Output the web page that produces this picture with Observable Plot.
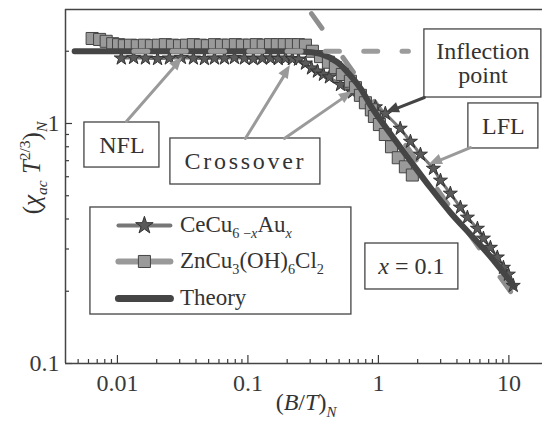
<!DOCTYPE html>
<html><head><meta charset="utf-8">
<script src="https://cdn.jsdelivr.net/npm/d3@7"></script>
<script src="https://cdn.jsdelivr.net/npm/@observablehq/plot@0.6"></script>
<style>
html,body{margin:0;padding:0;background:#fff;}
#chart{width:542px;height:422px;}
svg text{font-family:"Liberation Serif","Times New Roman",serif;}
</style>
</head><body><div id="chart"></div>
<script>
// ---- data ----
const znX = [0.0064,0.0073,0.0082,0.0092,0.0102,0.0113,0.0126,0.0142,0.0161,0.0182,0.0206,0.0233,0.0264,0.0299,0.0338,0.0382,0.0433,0.0489,0.0554,0.0627,0.0709,0.0802,0.0907,0.103,0.116,0.131,0.149,0.168,0.190,0.215,0.244,0.276,0.312,0.360,0.414,0.468,0.529,0.610,0.667,0.728,0.795,0.883,0.932,1.018,1.13,1.26,1.42,1.61,1.82];
const znY = [2.26,2.24,2.20,2.15,2.13,2.11,2.12,2.11,2.12,2.11,2.12,2.13,2.12,2.11,2.12,2.13,2.12,2.11,2.13,2.12,2.12,2.13,2.12,2.12,2.13,2.12,2.13,2.13,2.13,2.13,2.13,2.12,2.00,1.90,1.80,1.71,1.60,1.50,1.41,1.31,1.22,1.14,1.07,0.99,0.90,0.80,0.72,0.66,0.61];
const ceX = [0.0107,0.0133,0.0164,0.0203,0.0250,0.0309,0.0382,0.0464,0.0554,0.0661,0.0788,0.0940,0.110,0.129,0.149,0.171,0.194,0.219,0.244,0.276,0.307,0.341,0.379,0.421,0.512,0.632,0.781,0.949,1.13,1.47,1.76,2.10,2.64,2.99,3.56,4.25,4.81,5.74,6.38,7.22,8.16,9.08,9.91,10.8];
const ceY = [1.87,1.88,1.87,1.86,1.87,1.88,1.87,1.86,1.87,1.87,1.88,1.87,1.86,1.87,1.87,1.86,1.87,1.86,1.85,1.78,1.70,1.65,1.60,1.56,1.45,1.35,1.25,1.17,1.10,0.953,0.841,0.743,0.649,0.579,0.511,0.447,0.406,0.365,0.332,0.304,0.277,0.251,0.235,0.211];
const thX = [0.0047,0.01,0.03,0.1,0.2,0.27,0.36,0.485,0.61,0.73,0.87,0.98,1.35,1.82,2.50,3.56,5.25,7.22,11.0];
const thY = [2.0,2.0,2.0,2.0,2.0,1.99,1.95,1.80,1.585,1.40,1.19,1.08,0.849,0.681,0.541,0.426,0.338,0.279,0.209];
const tanX = [0.307, 11.2];          // dashed tangent line through inflection point
const tanY = [2.87, 0.187];
const nflX = [0.01338, 1.698];       // dashed NFL plateau line
const nflY = [2.0, 2.0];

const seriesNames = ["CeCu6−xAux", "ZnCu3(OH)6Cl2", "Theory"];
const xMajor = [0.01, 0.1, 1, 10];
const xLabels = ["0.01", "0.1", "1", "10"];
const xMinor = [0.005,0.006,0.007,0.008,0.009,0.02,0.03,0.04,0.05,0.06,0.07,0.08,0.09,0.2,0.3,0.4,0.5,0.6,0.7,0.8,0.9,2,3,4,5,6,7,8,9];
const yMajor = [0.1, 1];
const yLabels = ["0.1", "1"];
const yMinor = [0.2,0.3,0.4,0.5,0.6,0.7,0.8,0.9,2];

// annotation boxes (data coordinates)
const boxText = ["NFL", "Crossover", "Inflection\npoint", "LFL", "x = 0.1"];
const boxX1 = [0.005587, 0.02547, 2.252, 4.894, 0.7950];
const boxX2 = [0.02099, 0.3594, 17.74, 16.83, 4.102];
const boxY1 = [0.6554, 0.5569, 1.283, 0.7868, 0.2034];
const boxY2 = [1.0096, 0.8660, 2.465, 1.212, 0.3162];
// arrows (data coordinates)
const arX1 = [0.01172, 0.09567, 0.1904, 5.07, 2.252];
const arY1 = [1.0194, 0.8660, 0.8660, 0.794, 1.283];
const arX2 = [0.03148, 0.2117, 0.6322, 2.459, 1.152];
const arY2 = [1.884, 1.745, 1.359, 0.675, 1.111];
const arDark = [false, false, false, false, true];
// legend box
const legX1 = 0.006211, legX2 = 0.6211, legY1 = 0.1600, legY2 = 0.4467;
const legRowY = [0.3758, 0.2661, 0.1866];
const legLineX1 = 0.01018, legLineX2 = 0.02547, legMarkX = 0.0161, legTextX = 0.0304;

const xDomain = [0.004, 18.1];
const yDomain = [0.1, 2.985];

const zn = znX.map((x, i) => ({x, y: znY[i]}));
const ce = ceX.map((x, i) => ({x, y: ceY[i]}));
const th = thX.map((x, i) => ({x, y: thY[i]}));
const tan = tanX.map((x, i) => ({x, y: tanY[i]}));
const nfl = nflX.map((x, i) => ({x, y: nflY[i]}));
const boxes = boxText.map((t, i) => ({t, x1: boxX1[i], x2: boxX2[i], y1: boxY1[i], y2: boxY2[i]}));
const arrows = arX1.map((x1, i) => ({x1, y1: arY1[i], x2: arX2[i], y2: arY2[i], dark: arDark[i]}));
const legRows = legRowY.map((y, i) => ({y, i}));
const arrowColor = d => d.dark ? "#444" : "#9a9a9a";

const plot = Plot.plot({
  width: 542, height: 422,
  marginLeft: 65, marginRight: 0, marginTop: 9, marginBottom: 59,
  style: {fontFamily: '"Liberation Serif", serif', fontSize: "24px", color: "#3a3a3a", background: "#fff"},
  x: {type: "log", domain: xDomain},
  y: {type: "log", domain: yDomain},
  marks: [
    Plot.axisX({ticks: xMinor, tickSize: -4, tickFormat: () => "", strokeWidth: 1.2}),
    Plot.axisX({ticks: xMajor, tickSize: -8, tickPadding: 18, tickFormat: d => xLabels[xMajor.indexOf(d)], strokeWidth: 1.2, fontSize: 24}),
    Plot.axisY({ticks: yMinor, tickSize: -4, tickFormat: () => "", strokeWidth: 1.2}),
    Plot.axisY({ticks: yMajor, tickSize: -7, tickPadding: 13, tickFormat: d => yLabels[yMajor.indexOf(d)], strokeWidth: 1.2, fontSize: 24}),
    Plot.ruleX([xDomain[0]], {stroke: "#444", strokeWidth: 1.5}),
    Plot.ruleY([yDomain[0], yDomain[1]], {stroke: "#444", strokeWidth: 1.5}),
    // tangent dashed line
    Plot.line(tan, {x: "x", y: "y", stroke: "#8e8e8e", strokeWidth: 5, strokeLinecap: "round", strokeDasharray: "18,36"}),
    // CeCu stars
    Plot.line(ce, {x: "x", y: "y", stroke: "#777", strokeWidth: 3}),
    Plot.dot(ce, {x: "x", y: "y", symbol: "star", r: 4.4, fill: "#5a5a5a", stroke: "#333", strokeWidth: 1}),
    // ZnCu squares
    Plot.line(zn, {x: "x", y: "y", stroke: "#999", strokeWidth: 5}),
    Plot.dot(zn, {x: "x", y: "y", symbol: "square", r: 6.8, fill: "#9a9a9a", stroke: "#454545", strokeWidth: 1}),
    // theory
    Plot.line(th, {x: "x", y: "y", stroke: "#454545", strokeWidth: 6, strokeLinecap: "round", curve: "catmull-rom"}),
    // NFL plateau dashed line
    Plot.line(nfl, {x: "x", y: "y", stroke: "#9c9c9c", strokeWidth: 5, strokeLinecap: "round", strokeDasharray: "14,24.3"}),
    // annotation boxes & arrow shafts
    Plot.rect(boxes, {x1: "x1", x2: "x2", y1: "y1", y2: "y2", fill: "#fff", stroke: "#444", strokeWidth: 1.3}),
    Plot.rect([{}], {x1: () => legX1, x2: () => legX2, y1: () => legY1, y2: () => legY2, fill: "#fff", stroke: "#444", strokeWidth: 1.3}),
    Plot.arrow(arrows, {x1: "x1", y1: "y1", x2: "x2", y2: "y2", stroke: arrowColor, strokeWidth: 3, headLength: 0, insetEnd: 9}),
    Plot.text(boxes.filter(d => d.t !== "x = 0.1"), {x: d => Math.sqrt(d.x1 * d.x2), y: d => Math.sqrt(d.y1 * d.y2), text: "t", fontSize: 24, fill: "#333", lineHeight: 1.0}),
    // legend samples
    Plot.link(legRows, {x1: () => legLineX1, x2: () => legLineX2, y1: "y", y2: "y",
      stroke: d => ["#777", "#999", "#454545"][d.i], strokeWidth: d => [4, 6, 7][d.i], strokeLinecap: "round"}),
    Plot.dot(legRows.filter(d => d.i === 0), {x: () => legMarkX, y: "y", symbol: "star", r: 5.5, fill: "#5a5a5a", stroke: "#333", strokeWidth: 1}),
    Plot.dot(legRows.filter(d => d.i === 1), {x: () => legMarkX, y: "y", symbol: "square", r: 6.8, fill: "#9a9a9a", stroke: "#454545", strokeWidth: 1})
  ]
});

document.getElementById("chart").appendChild(plot);

const sx = plot.scale("x"), sy = plot.scale("y");
const svg = d3.select(plot);
const g = svg.append("g").attr("fill", "#333");

// filled arrowheads
for (const a of arrows) {
  const x1 = sx.apply(a.x1), y1 = sy.apply(a.y1), x2 = sx.apply(a.x2), y2 = sy.apply(a.y2);
  const ang = Math.atan2(y2 - y1, x2 - x1), L = 13, W = 5.5;
  const bx = x2 - L * Math.cos(ang), by = y2 - L * Math.sin(ang);
  g.append("polygon")
    .attr("points", [[x2, y2], [bx + W * Math.sin(ang), by - W * Math.cos(ang)], [bx - W * Math.sin(ang), by + W * Math.cos(ang)]].map(p => p.join(",")).join(" "))
    .attr("fill", arrowColor(a));
}

// wider letter spacing for "Crossover" as in the reference
svg.selectAll("text").filter(function () { return this.textContent === "Crossover"; }).attr("letter-spacing", "2.7px");

function rich(x, y, parts, {size = 24, anchor = "start", rotate = 0} = {}) {
  const t = g.append("text").attr("x", x).attr("y", y).attr("font-size", size).attr("text-anchor", anchor);
  if (rotate) t.attr("transform", `rotate(${rotate},${x},${y})`);
  let cur = 0;
  for (const p of parts) {
    const s = (p.sub || p.sup) ? 0.62 * size : size;
    const off = p.sub ? 0.28 * size : p.sup ? -0.42 * size : 0;
    const ts = t.append("tspan").attr("font-size", s).attr("dy", off - cur).text(p.t);
    if (p.i) ts.attr("font-style", "italic");
    cur = off;
  }
  return t;
}

// legend labels
const legParts = [
  [{t: "CeCu"}, {t: "6 −", sub: 1}, {t: "x", sub: 1, i: 1}, {t: "Au"}, {t: "x", sub: 1, i: 1}],
  [{t: "ZnCu"}, {t: "3", sub: 1}, {t: "(OH)"}, {t: "6", sub: 1}, {t: "Cl"}, {t: "2", sub: 1}],
  [{t: seriesNames[2]}]
];
legRowY.forEach((y, i) => rich(sx.apply(legTextX), sy.apply(y) + 7, legParts[i], {size: 23}));

// x = 0.1 box text
const b = boxes[4];
rich(sx.apply(Math.sqrt(b.x1 * b.x2)), sy.apply(Math.sqrt(b.y1 * b.y2)) + 8,
  [{t: "x", i: 1}, {t: " = 0.1"}], {size: 24, anchor: "middle"});

// axis titles
rich(306, 410, [{t: "("}, {t: "B", i: 1}, {t: "/"}, {t: "T", i: 1}, {t: ")"}, {t: "N", i: 1, sub: 1}], {size: 24, anchor: "middle"});
rich(40, 168, [{t: "("}, {t: "χ", i: 1}, {t: "ac", i: 1, sub: 1}, {t: " T", i: 1}, {t: "2/3", sup: 1}, {t: ")"}, {t: "N", i: 1, sub: 1}], {size: 25, anchor: "middle", rotate: -90});
</script>
</body></html>
